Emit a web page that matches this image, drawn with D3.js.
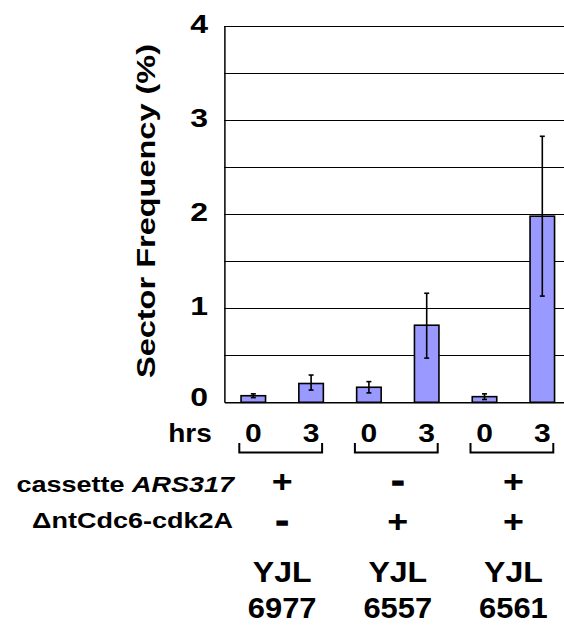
<!DOCTYPE html>
<html><head><meta charset="utf-8">
<script src="https://cdn.jsdelivr.net/npm/d3@7"></script>
<style>
body{margin:0;background:#fff}
svg{display:block}
text{font-family:"Liberation Sans",Arial,Helvetica,sans-serif;font-weight:bold;fill:#000}
</style>
</head><body>
<svg id="chart" width="564" height="625"></svg>
<script>
// ---- data ----
const categories = ["6977-0h","6977-3h","6557-0h","6557-3h","6561-0h","6561-3h"];
const hours = ["0","3","0","3","0","3"];
const values = [0.07, 0.20, 0.16, 0.82, 0.06, 1.98];
const errLow = [0.05, 0.13, 0.10, 0.47, 0.03, 1.13];
const errHigh = [0.09, 0.29, 0.22, 1.16, 0.09, 2.83];
const yTicks = [0, 1, 2, 3, 4];
const gridTicks = [0.5, 1, 1.5, 2, 2.5, 3, 3.5, 4];
const strainIds = ["6977", "6557", "6561"];
const cassetteARS317 = ["+", "-", "+"];
const ntCdc6cdk2A = ["-", "+", "+"];

// ---- layout ----
const svg = d3.select("#chart");
const pLeft = 224.4, pTop = 26.3, pBottom = 402.3, pRight = 571.2;

const x = d3.scaleBand().domain(categories).range([pLeft, pRight])
  .paddingInner(0.576).paddingOuter(0.288);
const y = d3.scaleLinear().domain([0, 4]).range([pBottom, pTop]);
const bw = x.bandwidth();
const cx = d => x(d) + bw / 2;
const groupCenter = g => (cx(categories[2 * g]) + cx(categories[2 * g + 1])) / 2;

function label(xp, yp, str, size, sx, anchor, rot, dy) {
  const g = svg.append("g")
    .attr("transform", `translate(${xp},${yp})` + (rot ? ` rotate(${rot})` : "") + ` scale(${sx},1)`);
  const t = g.append("text").attr("font-size", size).attr("text-anchor", anchor || "middle");
  if (dy) t.attr("dy", dy);
  t.text(str);
  return t;
}
function sign(xp, yc, s) {
  if (s === "-") label(xp, yc, s, 32, 1.2, "middle", 0, "0.31em")
    .attr("stroke", "#000").attr("stroke-width", 1.4);
  else label(xp, yc, s, 32, 1.12, "middle", 0, "0.35em");
}

// gridlines
svg.append("g").selectAll("line").data(gridTicks).join("line")
  .attr("x1", pLeft).attr("x2", pRight)
  .attr("y1", d => y(d)).attr("y2", d => y(d))
  .attr("stroke", "#000").attr("stroke-width", 1.2).attr("shape-rendering", "crispEdges");

// axes lines via d3 axes
const yAxis = svg.append("g").attr("transform", `translate(${pLeft},0)`)
  .call(d3.axisLeft(y).tickValues(yTicks).tickSize(0).tickFormat(""));
yAxis.select(".domain").attr("stroke", "#000").attr("stroke-width", 1.5);
const xAxis = svg.append("g").attr("transform", `translate(0,${pBottom})`)
  .call(d3.axisBottom(x).tickSize(0).tickFormat(""));
xAxis.select(".domain").attr("stroke", "#000").attr("stroke-width", 1.5);

// bars
svg.append("g").selectAll("rect").data(categories).join("rect")
  .attr("x", d => x(d)).attr("width", bw)
  .attr("y", (d, i) => y(values[i]))
  .attr("height", (d, i) => y(0) - y(values[i]))
  .attr("fill", "#9999FF").attr("stroke", "#000").attr("stroke-width", 1.6);

// error bars
const eb = svg.append("g").attr("stroke", "#000").attr("stroke-width", 1.6);
categories.forEach((c, i) => {
  const xc = cx(c);
  eb.append("line").attr("x1", xc).attr("x2", xc).attr("y1", y(errLow[i])).attr("y2", y(errHigh[i]));
  eb.append("line").attr("x1", xc - 2.5).attr("x2", xc + 2.5).attr("y1", y(errLow[i])).attr("y2", y(errLow[i]));
  eb.append("line").attr("x1", xc - 2.5).attr("x2", xc + 2.5).attr("y1", y(errHigh[i])).attr("y2", y(errHigh[i]));
});

// y tick labels
yTicks.forEach(v => {
  label(208, y(v) - (v === 0 ? 5 : 2), String(v), 25, 1.28, "end", 0, "0.36em");
});

// y title
label(155, 211, "Sector Frequency (%)", 26, 1.25, "middle", -90, 0);

// hrs row
label(190, 442, "hrs", 25, 1.12, "middle");
categories.forEach((c, i) => label(cx(c), 442, hours[i], 25, 1.2, "middle"));

// brackets
svg.append("g").selectAll("path").data(strainIds).join("path")
  .attr("d", (d, g) => {
    const l = cx(categories[2 * g]) - 14, r = cx(categories[2 * g + 1]) + 11;
    return `M${l},443V452.5H${r}V443`;
  })
  .attr("fill", "none").attr("stroke", "#000").attr("stroke-width", 2);

// row labels
const r1 = label(234, 491.5, "", 22.5, 1.2, "end");
r1.append("tspan").text("cassette ");
r1.append("tspan").attr("font-style", "italic").text("ARS317");
label(233, 528, "\u0394ntCdc6-cdk2A", 22.5, 1.2, "end");

strainIds.forEach((s, g) => {
  sign(groupCenter(g), 481, cassetteARS317[g]);
  sign(groupCenter(g), 521, ntCdc6cdk2A[g]);
  label(groupCenter(g), 582, "YJL", 30, 1.07, "middle");
  label(groupCenter(g), 617.5, s, 30, 1.03, "middle");
});
</script>
</body></html>
